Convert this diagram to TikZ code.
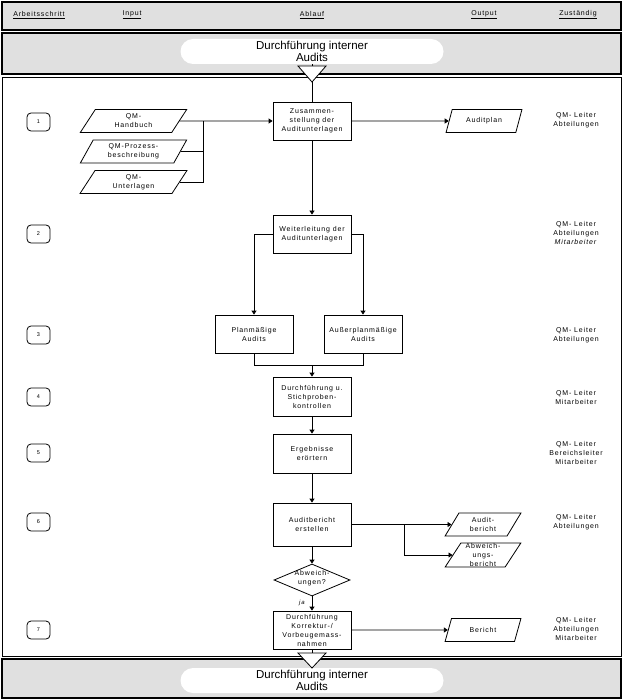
\documentclass[tikz,border=0pt]{standalone}
\usepackage{fontspec}
\setmainfont{Liberation Sans}
\newfontfamily\lsp[LetterSpace=12]{Liberation Sans}
\usetikzlibrary{shapes.geometric,arrows.meta}
\definecolor{bandc}{RGB}{224,224,224}
\begin{document}
\begin{tikzpicture}[x=1pt,y=-1pt,
  every node/.style={font=\lsp\fontsize{7}{9}\selectfont, inner sep=0pt, align=center},
  band/.style={draw, line width=1.2pt, fill=bandc},
  pill/.style={fill=white, rounded corners=12.5pt, minimum width=263pt, minimum height=25pt, font=\fontsize{11.5}{10.5}\selectfont},
  proc/.style={draw, line width=0.8pt, minimum width=78pt, minimum height=38pt},
  io/.style={draw, line width=0.8pt, trapezium, trapezium left angle=62, trapezium right angle=118, trapezium stretches=true, minimum width=76pt, minimum height=23pt},
  num/.style={draw, rounded corners=4pt, line width=0.8pt, minimum width=23pt, minimum height=18pt, font=\lsp\fontsize{5.5}{6}\selectfont},
  dia/.style={draw, diamond, line width=0.8pt, minimum width=76pt, minimum height=32pt},
  conn/.style={line width=0.8pt},
  arr/.style={conn, -{Triangle[length=4pt,width=5pt]}},
  tri/.style={draw, fill=white, line width=0.8pt}
]
\useasboundingbox (0,0) rectangle (623,700);
% bands
\draw[band] (2,2) rectangle (621,30);
\draw[band] (2,33) rectangle (621,74);
\draw[line width=1pt, fill=white] (2,78) rectangle (621,656);
\draw[band] (2,659) rectangle (621,698);
% header
\node (hA) at (39,15) {\underline{Arbeitsschritt}};
\node (hI) at (132,15) {\underline{Input}};
\node (hB) at (312,15) {\underline{Ablauf}};
\node (hO) at (484,15) {\underline{Output}};
\node (hZ) at (578,15) {\underline{Zuständig}};
% banners
\node[pill] (ptop) at (312,51.5) {Durchführung interner\\Audits};
\node[pill] (pbot) at (312,680.5) {Durchführung interner\\Audits};
% triangles
\coordinate (t1l) at (298,66); \coordinate (t1r) at (326,66); \coordinate (t1a) at (312,82);
\coordinate (t1t) at (312,66);
\draw[tri] (t1l) -- (t1r) -- (t1a) -- cycle;
\draw[conn] (ptop.south) -- (t1t);
% step numbers
\node[num] (n1) at (38.5,122) {1};
\node[num] (n2) at (38.5,234) {2};
\node[num] (n3) at (38.5,335) {3};
\node[num] (n4) at (38.5,397) {4};
\node[num] (n5) at (38.5,453) {5};
\node[num] (n6) at (38.5,522) {6};
\node[num] (n7) at (38.5,630) {7};
% process boxes
\node[proc] (b1) at (312,121) {Zusammen-\\stellung der\\Auditunterlagen};
\node[proc] (b2) at (312,234) {Weiterleitung der\\Auditunterlagen};
\node[proc] (b3a) at (254,334) {Planmäßige\\Audits};
\node[proc] (b3b) at (363,334) {Außerplanmäßige\\Audits};
\node[proc, minimum height=39pt] (b4) at (312,396.5) {Durchführung u.\\Stichproben-\\kontrollen};
\node[proc, minimum height=39pt] (b5) at (312,453.5) {Ergebnisse\\erörtern};
\node[proc, minimum height=43pt] (b6) at (312,524.5) {Auditbericht\\erstellen};
\node[dia] (d1) at (312,580) {};
\node (d1t) at (312,578) {Abweich-\\ungen?};
\node[proc] (b7) at (312,630) {Durchführung\\Korrektur-/\\Vorbeugemass-\\nahmen};
% bottom triangle
\coordinate (t2l) at (298,653); \coordinate (t2r) at (326,653); \coordinate (t2a) at (312,668);
\coordinate (t2t) at (312,653);
\draw[tri] (t2l) -- (t2r) -- (t2a) -- cycle;
% inputs
\node[io, minimum width=107pt] (i1) at (133.5,121) {QM-\\Handbuch};
\node[io, minimum width=107pt] (i2) at (133.5,151.5) {QM-Prozess-\\beschreibung};
\node[io, minimum width=107pt] (i3) at (133.5,182) {QM-\\Unterlagen};
% outputs
\node[io] (o1) at (484,121) {Auditplan};
\node[io] (o2) at (483,524.5) {Audit-\\bericht};
\node[io, minimum height=24pt] (o3) at (483,555) {Abweich-\\ungs-\\bericht};
\node[io] (o4) at (483,630) {Bericht};
% responsibilities
\node (r1) at (576,120) {QM- Leiter\\Abteilungen};
\node (r2) at (576,233) {QM- Leiter\\Abteilungen\\\textit{Mitarbeiter}};
\node (r3) at (576,335) {QM- Leiter\\Abteilungen};
\node (r4) at (576,397) {QM- Leiter\\Mitarbeiter};
\node (r5) at (576,453) {QM- Leiter\\Bereichsleiter\\Mitarbeiter};
\node (r6) at (576,522) {QM- Leiter\\Abteilungen};
\node (r7) at (576,629) {QM- Leiter\\Abteilungen\\Mitarbeiter};
% connectors
\coordinate (jt) at (203,121);
\draw[arr] (i1.east) -- (b1.west);
\draw[conn] (i2.east) -- (i2.east -| jt);
\draw[conn] (i3.east) -- (i3.east -| jt) -- (jt);
\draw[arr] (b1.east) -- (o1.west);
\draw[conn] (t1a) -- (b1.north);
\draw[arr] (b1.south) -- (b2.north);
\draw[arr] (b2.west) -| (b3a.north);
\draw[arr] (b2.east) -| (b3b.north);
\coordinate (jm) at (312,365);
\draw[conn] (b3a.south) |- (jm);
\draw[conn] (b3b.south) |- (jm);
\draw[arr] (jm) -- (b4.north);
\draw[arr] (b4.south) -- (b5.north);
\draw[arr] (b5.south) -- (b6.north);
\draw[arr] (b6.south) -- (d1.north);
\draw[arr] (d1.south) -- (b7.north) node[pos=0.45, left=7pt, font=\lsp\itshape\fontsize{6}{6}\selectfont] (ja) {ja};
\coordinate (jo) at (404,524.5);
\draw[arr] (b6.east) -- (o2.west);
\draw[arr] (jo) |- (o3.west);
\draw[arr] (b7.east) -- (o4.west);
\draw[conn] (b7.south) -- (t2t);
\end{tikzpicture}
\end{document}
